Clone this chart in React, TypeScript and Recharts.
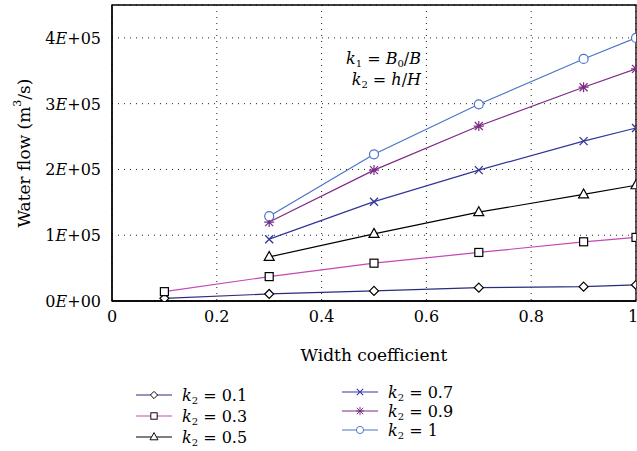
import React from 'react';
import {
  LineChart,
  Line,
  XAxis,
  YAxis,
  CartesianGrid,
  ReferenceArea,
} from 'recharts';

// width coefficient (k1) values where points were measured
const xFull = [0.1, 0.3, 0.5, 0.7, 0.9, 1.0];
const xShort = [0.3, 0.5, 0.7, 0.9, 1.0];

// water flow (m3/s) for each k2
const flowK01 = [4100, 10700, 15300, 20300, 21800, 24400];
const flowK03 = [14200, 37100, 57500, 73800, 90000, 96700];
const flowK05 = [67000, 102000, 135000, 162000, 176000];
const flowK07 = [94000, 151000, 199000, 243000, 263000];
const flowK09 = [120000, 199000, 266000, 325000, 353000];
const flowK10 = [129000, 223000, 299000, 368000, 400000];

const xTicks = [0, 0.2, 0.4, 0.6, 0.8, 1];
const yTicks = [0, 100000, 200000, 300000, 400000];

const FONT = '"DejaVu Serif", serif';

type Shape = 'diamond' | 'square' | 'triangle' | 'x' | 'star' | 'circle';

interface SeriesDef {
  label: string;
  xs: number[];
  ys: number[];
  color: string;
  markColor: string;
  shape: Shape;
}

const series: SeriesDef[] = [
  { label: '0.1', xs: xFull, ys: flowK01, color: '#2a2c7c', markColor: '#000', shape: 'diamond' },
  { label: '0.3', xs: xFull, ys: flowK03, color: '#c448b4', markColor: '#000', shape: 'square' },
  { label: '0.5', xs: xShort, ys: flowK05, color: '#000000', markColor: '#000', shape: 'triangle' },
  { label: '0.7', xs: xShort, ys: flowK07, color: '#30369a', markColor: '#30369a', shape: 'x' },
  { label: '0.9', xs: xShort, ys: flowK09, color: '#7d2a85', markColor: '#7d2a85', shape: 'star' },
  { label: '1', xs: xShort, ys: flowK10, color: '#4a74c9', markColor: '#4a74c9', shape: 'circle' },
];

const Marker = ({ cx, cy, shape, color }: { cx: number; cy: number; shape: Shape; color: string }) => {
  const s = 4.5;
  switch (shape) {
    case 'diamond':
      return (
        <path
          d={`M${cx},${cy - s}L${cx + s},${cy}L${cx},${cy + s}L${cx - s},${cy}Z`}
          fill="#fff"
          stroke={color}
          strokeWidth={1.2}
        />
      );
    case 'square':
      return <rect x={cx - 4} y={cy - 4} width={8} height={8} fill="#fff" stroke={color} strokeWidth={1.2} />;
    case 'triangle':
      return (
        <path
          d={`M${cx},${cy - 5.5}L${cx + 5},${cy + 3.5}L${cx - 5},${cy + 3.5}Z`}
          fill="#fff"
          stroke={color}
          strokeWidth={1.2}
        />
      );
    case 'x':
      return (
        <path
          d={`M${cx - 4},${cy - 4}L${cx + 4},${cy + 4}M${cx - 4},${cy + 4}L${cx + 4},${cy - 4}`}
          stroke={color}
          strokeWidth={1.3}
          fill="none"
        />
      );
    case 'star':
      return (
        <path
          d={`M${cx - 4},${cy - 4}L${cx + 4},${cy + 4}M${cx - 4},${cy + 4}L${cx + 4},${cy - 4}M${cx},${cy - 5}L${cx},${cy + 5}M${cx - 5},${cy}L${cx + 5},${cy}`}
          stroke={color}
          strokeWidth={1.2}
          fill="none"
        />
      );
    default:
      return <circle cx={cx} cy={cy} r={4.5} fill="#fff" stroke={color} strokeWidth={1.2} />;
  }
};

const XTick = (props: any) => {
  const { x, y, payload } = props;
  return (
    <text x={x} y={y} dy={13} textAnchor="middle" fontFamily={FONT} fontSize={16} fill="#000">
      {payload.value}
    </text>
  );
};

const YTick = (props: any) => {
  const { x, y, payload } = props;
  const v = payload.value as number;
  const mant = Math.round(v / 100000);
  const exp = v === 0 ? '00' : '05';
  return (
    <text x={x} y={y} dy={6} textAnchor="end" fontFamily={FONT} fontSize={16} fill="#000">
      <tspan>{mant}</tspan>
      <tspan fontStyle="italic">E</tspan>
      <tspan>+{exp}</tspan>
    </text>
  );
};

const YLabel = (props: any) => {
  const { viewBox } = props;
  const cx = 24;
  const cy = viewBox.y + viewBox.height / 2;
  return (
    <text
      x={cx}
      y={cy}
      transform={`rotate(-90 ${cx} ${cy})`}
      textAnchor="middle"
      dominantBaseline="central"
      fontFamily={FONT}
      fontSize={17}
      fill="#000"
    >
      Water flow (m<tspan fontSize={11} baselineShift="super">3</tspan>/s)
    </text>
  );
};

const LegendItem = ({ s, x, y }: { s: SeriesDef; x: number; y: number }) => (
  <g>
    <line x1={x} y1={y} x2={x + 36} y2={y} stroke={s.color} strokeWidth={1.2} />
    <g transform={`translate(${x + 18},${y}) scale(0.8) translate(${-(x + 18)},${-y})`}>
      <Marker cx={x + 18} cy={y} shape={s.shape} color={s.markColor} />
    </g>
    <text x={x + 46} y={y} dy={6} fontFamily={FONT} fontSize={16} fill="#000">
      <tspan fontStyle="italic">k</tspan>
      <tspan fontSize={10} dy={3}>2</tspan>
      <tspan dy={-3}> = {s.label}</tspan>
    </text>
  </g>
);

const App: React.FC = () => {
  const dataSets = series.map((s) => s.xs.map((x, i) => ({ x, y: s.ys[i] })));

  return (
    <div style={{ position: 'absolute', left: 0, top: 0, width: 637, height: 451, background: '#fff' }}>
      <LineChart width={637} height={451} margin={{ top: 5, right: 1, left: 8, bottom: 120 }}>
        <CartesianGrid stroke="#222" strokeDasharray="1 5" />
        <XAxis
          dataKey="x"
          type="number"
          domain={[0, 1]}
          ticks={xTicks}
          tick={<XTick />}
          tickLine={false}
          axisLine={{ stroke: '#000', strokeWidth: 1.3 }}
          height={30}
          allowDataOverflow
          label={{
            value: 'Width coefficient',
            position: 'insideBottom',
            offset: -30,
            fontFamily: FONT,
            fontSize: 17,
            fill: '#000',
          }}
        />
        <YAxis
          type="number"
          domain={[0, 450000]}
          ticks={yTicks}
          tick={<YTick />}
          tickLine={false}
          axisLine={{ stroke: '#000', strokeWidth: 1.3 }}
          width={104}
          tickMargin={5}
          allowDataOverflow
          label={<YLabel />}
        />
        <ReferenceArea x1={0} x2={1} y1={0} y2={450000} fill="none" stroke="#000" strokeWidth={1.3} />
        {series.map((s, idx) => (
          <Line
            key={s.label}
            data={dataSets[idx]}
            dataKey="y"
            type="linear"
            stroke={s.color}
            strokeWidth={1.2}
            isAnimationActive={false}
            dot={(p: any) => (
              <Marker key={`${s.label}-${p.index}`} cx={p.cx} cy={p.cy} shape={s.shape} color={s.markColor} />
            )}
            activeDot={false}
          />
        ))}
      </LineChart>

      <svg
        width={637}
        height={451}
        style={{ position: 'absolute', left: 0, top: 0, pointerEvents: 'none' }}
      >
        <text x={421} y={64} textAnchor="end" fontFamily={FONT} fontSize={16} fill="#000">
          <tspan fontStyle="italic">k</tspan>
          <tspan fontSize={10} dy={3}>1</tspan>
          <tspan dy={-3}> = </tspan>
          <tspan fontStyle="italic">B</tspan>
          <tspan fontSize={10} dy={3}>0</tspan>
          <tspan dy={-3}>/</tspan>
          <tspan fontStyle="italic">B</tspan>
        </text>
        <text x={421} y={85} textAnchor="end" fontFamily={FONT} fontSize={16} fill="#000">
          <tspan fontStyle="italic">k</tspan>
          <tspan fontSize={10} dy={3}>2</tspan>
          <tspan dy={-3}> = </tspan>
          <tspan fontStyle="italic">h</tspan>
          <tspan>/</tspan>
          <tspan fontStyle="italic">H</tspan>
        </text>
        <LegendItem s={series[0]} x={136} y={395} />
        <LegendItem s={series[1]} x={136} y={416} />
        <LegendItem s={series[2]} x={136} y={437} />
        <LegendItem s={series[3]} x={342} y={392} />
        <LegendItem s={series[4]} x={342} y={411} />
        <LegendItem s={series[5]} x={342} y={430} />
      </svg>
    </div>
  );
};

export default App;
